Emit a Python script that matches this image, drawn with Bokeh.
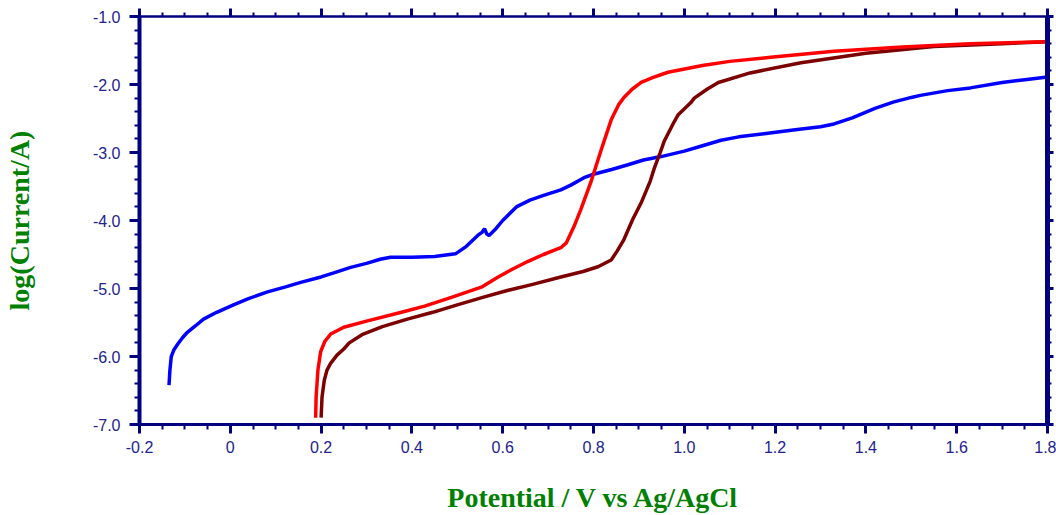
import numpy as np
from bokeh.plotting import figure
from bokeh.models import Range1d, LinearAxis, FixedTicker, CustomJSTickFormatter
from bokeh.embed import file_html
from bokeh.resources import INLINE

# ---- data ----
blue_x = [-0.135, -0.133, -0.130, -0.124, -0.116, -0.105, -0.094, -0.075, -0.059, -0.030,
          0.007, 0.040, 0.082, 0.120, 0.155, 0.200, 0.228, 0.265, 0.300, 0.330,
          0.353, 0.400, 0.450, 0.496, 0.520, 0.545, 0.555, 0.560, 0.565, 0.570,
          0.585, 0.600, 0.630, 0.660, 0.690, 0.728, 0.750, 0.779, 0.800, 0.840,
          0.876, 0.910, 0.949, 1.000, 1.040, 1.081, 1.120, 1.180, 1.240, 1.300,
          1.330, 1.370, 1.420, 1.460, 1.500, 1.520, 1.580, 1.630, 1.700, 1.750, 1.800]
blue_y = [-6.42, -6.20, -6.00, -5.90, -5.82, -5.72, -5.64, -5.54, -5.45, -5.35,
          -5.24, -5.15, -5.05, -4.98, -4.91, -4.83, -4.77, -4.69, -4.63, -4.57,
          -4.54, -4.54, -4.53, -4.49, -4.38, -4.22, -4.17, -4.12, -4.20, -4.22,
          -4.12, -4.00, -3.80, -3.70, -3.63, -3.55, -3.48, -3.37, -3.32, -3.25,
          -3.18, -3.11, -3.06, -2.98, -2.90, -2.82, -2.77, -2.72, -2.67, -2.62,
          -2.58, -2.49, -2.35, -2.26, -2.19, -2.16, -2.09, -2.05, -1.97, -1.93, -1.89]

red_x = [0.188, 0.189, 0.193, 0.199, 0.208, 0.221, 0.250, 0.300, 0.377, 0.428,
         0.487, 0.553, 0.590, 0.620, 0.656, 0.690, 0.728, 0.740, 0.757, 0.772,
         0.794, 0.817, 0.839, 0.855, 0.867, 0.885, 0.905, 0.930, 0.964, 1.040,
         1.100, 1.190, 1.330, 1.480, 1.630, 1.800]
red_y = [-6.90, -6.60, -6.20, -5.93, -5.78, -5.67, -5.57, -5.48, -5.35, -5.26,
         -5.13, -4.98, -4.83, -4.72, -4.60, -4.50, -4.40, -4.33, -4.09, -3.84,
         -3.44, -2.96, -2.52, -2.30, -2.19, -2.07, -1.97, -1.90, -1.82, -1.72,
         -1.66, -1.60, -1.51, -1.45, -1.40, -1.37]

maroon_x = [0.200, 0.202, 0.207, 0.213, 0.221, 0.235, 0.250, 0.262, 0.290, 0.335,
            0.390, 0.446, 0.500, 0.556, 0.610, 0.666, 0.728, 0.777, 0.810, 0.839,
            0.852, 0.867, 0.886, 0.905, 0.925, 0.934, 0.947, 0.956, 0.976, 0.986,
            1.014, 1.022, 1.050, 1.075, 1.145, 1.257, 1.400, 1.550, 1.700, 1.800]
maroon_y = [-6.90, -6.60, -6.35, -6.20, -6.10, -5.98, -5.89, -5.80, -5.68, -5.56,
            -5.45, -5.35, -5.24, -5.13, -5.03, -4.94, -4.83, -4.75, -4.68, -4.58,
            -4.45, -4.28, -3.99, -3.74, -3.42, -3.23, -3.00, -2.83, -2.57, -2.45,
            -2.27, -2.20, -2.07, -1.97, -1.83, -1.68, -1.54, -1.44, -1.40, -1.37]

x_ticks = [-0.2, 0.0, 0.2, 0.4, 0.6, 0.8, 1.0, 1.2, 1.4, 1.6, 1.8]
y_ticks = [-7.0, -6.0, -5.0, -4.0, -3.0, -2.0, -1.0]
x_label = "Potential / V vs Ag/AgCl"
y_label = "log(Current/A)"

# ---- styling ----
NAVY = "#000080"
TICKLBL = "#22228e"
GREEN = "#008000"

x_minor = [round(v, 3) for v in np.arange(-0.2, 1.8001, 0.05)]
y_minor = [round(v, 2) for v in np.arange(-7.0, -0.999, 0.2)]

p = figure(width=1056, height=515, output_backend="svg", toolbar_location=None,
           x_range=Range1d(-0.2, 1.8), y_range=Range1d(-7.0, -1.0),
           min_border_left=139, min_border_right=9, min_border_top=16, min_border_bottom=89,
           x_axis_label=x_label, y_axis_label=y_label)
p.xgrid.visible = False
p.ygrid.visible = False
p.outline_line_color = None
p.background_fill_color = "white"
p.border_fill_color = "white"

fmt = CustomJSTickFormatter(code="return Math.abs(tick) < 1e-9 ? '0' : tick.toFixed(1);")
blank = CustomJSTickFormatter(code="return '';")

xt = FixedTicker(ticks=x_ticks, minor_ticks=x_minor)
yt = FixedTicker(ticks=y_ticks, minor_ticks=y_minor)

def style(ax, lw, mt_out, mn_out):
    ax.axis_line_color = NAVY
    ax.axis_line_width = lw
    ax.major_tick_line_color = NAVY
    ax.minor_tick_line_color = NAVY
    ax.major_tick_line_width = 3
    ax.minor_tick_line_width = 2
    ax.major_tick_in = 0
    ax.minor_tick_in = 0
    ax.major_tick_out = mt_out
    ax.minor_tick_out = mn_out
    ax.major_label_text_font = "Liberation Sans"
    ax.major_label_text_font_size = "16px"
    ax.major_label_text_color = TICKLBL
    ax.axis_label_text_font = "Liberation Serif"
    ax.axis_label_text_font_style = "bold"
    ax.axis_label_text_font_size = "28px"
    ax.axis_label_text_color = GREEN

xa = p.xaxis[0]
xa.ticker = xt
xa.formatter = fmt
style(xa, 3, 9, 5)
xa.major_label_standoff = 7
xa.axis_label_standoff = 26

ya = p.yaxis[0]
ya.ticker = yt
ya.formatter = fmt
style(ya, 4, 10, 5)
ya.major_label_standoff = 9
ya.axis_label_standoff = 55

top = LinearAxis(ticker=xt, formatter=blank)
style(top, 2.5, 8, 4)
top.major_label_standoff = 0
p.add_layout(top, "above")

right = LinearAxis(ticker=yt, formatter=blank)
style(right, 5, 6, 4)
right.major_label_standoff = 0
p.add_layout(right, "right")

p.line(blue_x, blue_y, line_color="#0000ff", line_width=3.5)
p.line(maroon_x, maroon_y, line_color="#7d0000", line_width=3.5)
p.line(red_x, red_y, line_color="#ff0000", line_width=3.5)

open("out.html", "w").write(file_html(p, INLINE))
